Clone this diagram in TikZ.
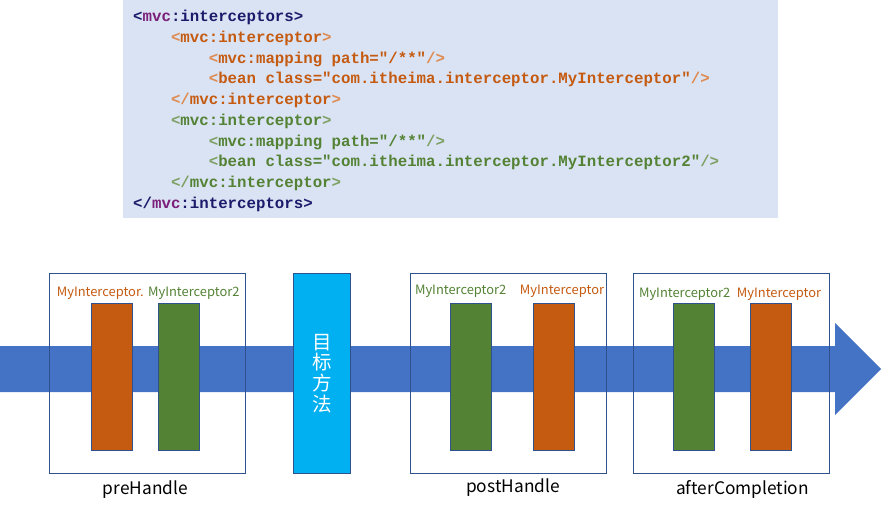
\documentclass[tikz,border=0pt]{standalone}
\usepackage{fontspec}
\newfontfamily\codefont{Liberation Mono}
\newfontfamily\cjk{Noto Sans CJK SC}
\definecolor{codebg}{HTML}{DAE3F3}
\definecolor{tagnavy}{HTML}{1B1B6B}
\definecolor{mvcpurple}{HTML}{7A1F7A}
\definecolor{orng}{HTML}{C55A11}
\definecolor{orngl}{HTML}{DE8A50}
\definecolor{grn}{HTML}{548235}
\definecolor{grnl}{HTML}{7FA064}
\definecolor{arrowblue}{HTML}{4472C4}
\definecolor{framec}{HTML}{2F528F}
\definecolor{tgtc}{HTML}{00B0F0}
\begin{document}
\begin{tikzpicture}[x=1pt,y=-1pt,
  codeline/.style={anchor=base west,inner sep=0pt,font=\codefont\bfseries\fontsize{15.75}{20}\selectfont},
  frame/.style={draw=framec,line width=0.9pt,minimum width=196pt,minimum height=200pt,inner sep=0pt},
  bar/.style={draw=framec,line width=0.7pt,minimum width=41.4pt,minimum height=147.4pt,inner sep=0pt},
  lbl/.style={inner sep=0pt,font=\cjk\fontsize{12.9}{14}\selectfont},
  phase/.style={inner sep=0pt,font=\cjk\fontsize{17.3}{20}\selectfont},
  target/.style={draw=framec,fill=tgtc,line width=0.9pt,minimum width=57.4pt,minimum height=200pt,inner sep=0pt,text=white,align=center,font=\cjk\fontsize{19.5}{20.7}\selectfont}]
\useasboundingbox (0,0) rectangle (882,512);
% code block
\node[fill=codebg,minimum width=655pt,minimum height=218pt,inner sep=0pt,anchor=north west] (code) at (123,0) {};
\node[codeline] (c1) at (133,21.5) {\color{tagnavy}<\color{mvcpurple}mvc\color{tagnavy}:interceptors>};
\node[codeline] (c2) at (170.8,42.2) {\color{orngl}<\color{orng}mvc:interceptor\color{orngl}>};
\node[codeline] (c3) at (208.6,63) {\color{orngl}<\color{orng}mvc:mapping path="/**"\color{orngl}/>};
\node[codeline] (c4) at (208.6,83.7) {\color{orngl}<\color{orng}bean class="com.itheima.interceptor.MyInterceptor"\color{orngl}/>};
\node[codeline] (c5) at (170.8,104.5) {\color{orngl}</\color{orng}mvc:interceptor\color{orngl}>};
\node[codeline] (c6) at (170.8,125.2) {\color{grnl}<\color{grn}mvc:interceptor\color{grnl}>};
\node[codeline] (c7) at (208.6,146) {\color{grnl}<\color{grn}mvc:mapping path="/**"\color{grnl}/>};
\node[codeline] (c8) at (208.6,166.7) {\color{grnl}<\color{grn}bean class="com.itheima.interceptor.MyInterceptor2"\color{grnl}/>};
\node[codeline] (c9) at (170.8,187.5) {\color{grnl}</\color{grn}mvc:interceptor\color{grnl}>};
\node[codeline] (c10) at (133,208.2) {\color{tagnavy}</\color{mvcpurple}mvc\color{tagnavy}:interceptors>};
% arrow
\fill[arrowblue] (0,346) -- (835,346) -- (835,323) -- (881,369) -- (835,415) -- (835,392) -- (0,392) -- cycle;
% frames
\node[frame] (pre) at (147.3,373.3) {};
\node[frame] (post) at (508.5,373.3) {};
\node[frame] (after) at (731.3,373.5) {};
% target method
\node[target] (tgt) at (322,373.3) {目\\标\\方\\法};
% bars
\node[bar,fill=orng] (pre1) at (112,377) {};
\node[bar,fill=grn] (pre2) at (179,377) {};
\node[bar,fill=grn] (post1) at (470.8,377) {};
\node[bar,fill=orng] (post2) at (553.8,377) {};
\node[bar,fill=grn] (after1) at (693.8,377) {};
\node[bar,fill=orng] (after2) at (770.8,377) {};
% labels
\node[lbl,text=orng] (l1) at (100.3,293.3) {MyInterceptor.};
\node[lbl,text=grn] (l2) at (193.8,293.3) {MyInterceptor2};
\node[lbl,text=grn] (l3) at (460.7,291.7) {MyInterceptor2};
\node[lbl,text=orng] (l4) at (562,291.7) {MyInterceptor};
\node[lbl,text=grn] (l5) at (684.7,294) {MyInterceptor2};
\node[lbl,text=orng] (l6) at (779,294) {MyInterceptor};
\node[phase] (p1) at (145.3,490) {preHandle};
\node[phase] (p2) at (513,488) {postHandle};
\node[phase] (p3) at (742.5,489.3) {afterCompletion};
\end{tikzpicture}
\end{document}
